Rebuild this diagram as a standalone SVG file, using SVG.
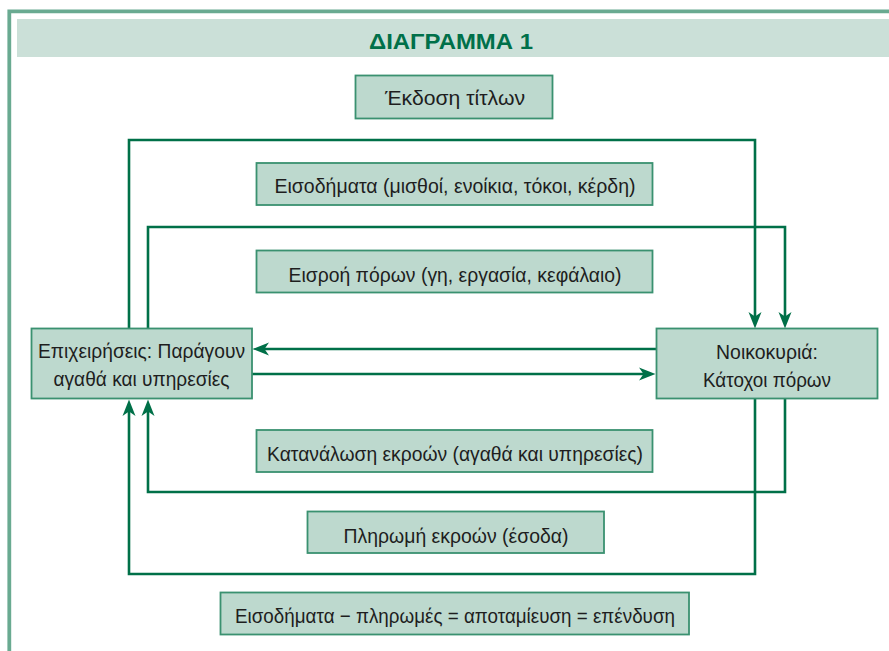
<svg xmlns="http://www.w3.org/2000/svg" width="889" height="651" viewBox="0 0 889 651">
<style>
.frame{fill:none;stroke:#69aa91;stroke-width:3.8}
.box{fill:#bdd9ce;stroke:#3a9170;stroke-width:1.8}
.t{font-family:"Liberation Sans",Arial,sans-serif;font-size:21px;fill:#1e1e1e;text-anchor:middle}
.title{font-family:"Liberation Sans",Arial,sans-serif;font-size:22px;font-weight:bold;fill:#00704a;text-anchor:middle}
.c{fill:none;stroke:#007048;stroke-width:2.6;stroke-linejoin:miter}
</style>
<defs>
<marker id="ah" markerUnits="userSpaceOnUse" markerWidth="18" markerHeight="14" viewBox="0 0 17 14" refX="10" refY="7" orient="auto">
<path d="M0,0.5 L16.5,7 L0,13.5 L4.5,7 Z" fill="#007048"/>
</marker>
</defs>
<rect x="0" y="0" width="889" height="651" fill="#ffffff"/>
<path class="frame" d="M9.3,651 V11.3 H889"/>
<rect x="17" y="19" width="872" height="38" fill="#cbe0d8"/>
<text class="title" x="451" y="48.5" textLength="164" lengthAdjust="spacingAndGlyphs">ΔΙΑΓΡΑΜΜΑ 1</text>

<g id="connectors">
<path class="c" d="M129,328 V140 H755 V322" marker-end="url(#ah)"/>
<path class="c" d="M148,328 V227 H785 V322" marker-end="url(#ah)"/>
<path class="c" d="M656,349 H259" marker-end="url(#ah)"/>
<path class="c" d="M252,374 H649" marker-end="url(#ah)"/>
<path class="c" d="M785,398 V492 H148 V406" marker-end="url(#ah)"/>
<path class="c" d="M755,398 V574 H129 V406" marker-end="url(#ah)"/>
</g>

<g id="ekdosi">
<rect class="box" x="355.5" y="75.5" width="197" height="43"/>
<text class="t" x="455" y="105" textLength="140" lengthAdjust="spacingAndGlyphs">Έκδοση τίτλων</text>
</g>
<g id="eisodimata">
<rect class="box" x="256.5" y="163" width="396" height="42"/>
<text class="t" x="455" y="193" textLength="361" lengthAdjust="spacingAndGlyphs">Εισοδήματα (μισθοί, ενοίκια, τόκοι, κέρδη)</text>
</g>
<g id="eisroi">
<rect class="box" x="256.5" y="250.5" width="396" height="42"/>
<text class="t" x="455" y="281.5" textLength="333" lengthAdjust="spacingAndGlyphs">Εισροή πόρων (γη, εργασία, κεφάλαιο)</text>
</g>
<g id="epixeiriseis">
<rect class="box" x="31.5" y="328.5" width="220.5" height="70"/>
<text class="t" x="141.5" y="358" textLength="207" lengthAdjust="spacingAndGlyphs">Επιχειρήσεις: Παράγουν</text>
<text class="t" x="141.5" y="386" textLength="176" lengthAdjust="spacingAndGlyphs">αγαθά και υπηρεσίες</text>
</g>
<g id="noikokyria">
<rect class="box" x="656.5" y="328.5" width="221" height="70"/>
<text class="t" x="767" y="359" textLength="102" lengthAdjust="spacingAndGlyphs">Νοικοκυριά:</text>
<text class="t" x="767" y="387" textLength="128" lengthAdjust="spacingAndGlyphs">Κάτοχοι πόρων</text>
</g>
<g id="katanalosi">
<rect class="box" x="256.5" y="430" width="396" height="42"/>
<text class="t" x="455" y="461" textLength="376" lengthAdjust="spacingAndGlyphs">Κατανάλωση εκροών (αγαθά και υπηρεσίες)</text>
</g>
<g id="pliromi">
<rect class="box" x="307.5" y="511.5" width="296.5" height="41.5"/>
<text class="t" x="456" y="542.5" textLength="225" lengthAdjust="spacingAndGlyphs">Πληρωμή εκροών (έσοδα)</text>
</g>
<g id="exisosi">
<rect class="box" x="220.5" y="592.5" width="468.5" height="42"/>
<text class="t" x="455" y="622.5" textLength="440" lengthAdjust="spacingAndGlyphs">Εισοδήματα − πληρωμές = αποταμίευση = επένδυση</text>
</g>
</svg>
